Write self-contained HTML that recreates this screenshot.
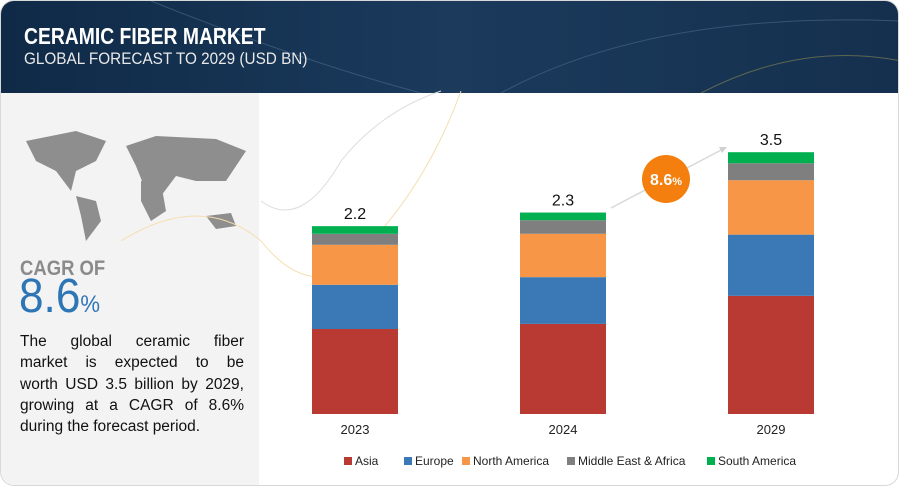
<!DOCTYPE html>
<html><head><meta charset="utf-8">
<style>
*{margin:0;padding:0;box-sizing:border-box}
body{width:900px;height:487px;background:#fff;font-family:"Liberation Sans",sans-serif;overflow:hidden;position:relative}
#frame{position:absolute;left:0;top:0;width:899px;height:486px;border:1px solid #d8d8d8;border-radius:14px;overflow:hidden;background:#fff}
#header{position:absolute;left:0;top:0;width:900px;height:92px;background:linear-gradient(90deg,#0f2a47,#1b3a5c 50%,#15304e)}
#title{position:absolute;left:23px;top:22px;color:#fff;font-weight:bold;font-size:23px;transform:scaleX(0.84);transform-origin:left top;white-space:nowrap}
#subtitle{position:absolute;left:23px;top:48px;color:#e8e8e8;font-size:17px;transform:scaleX(0.9);transform-origin:left top;white-space:nowrap}
#left{position:absolute;left:0;top:92px;width:258px;height:394px;background:#f3f3f3}
#cagr-of{position:absolute;left:19px;top:256px;color:#8a8a8a;font-weight:bold;font-size:21px;transform:scaleX(0.88);transform-origin:left top}
#cagr-val{position:absolute;left:18px;top:268px;color:#2e75b6;font-size:48px;transform:scaleX(0.92);transform-origin:left top}
#cagr-val span{font-size:24px}
#desc{position:absolute;left:19px;top:330px;width:224px;font-size:15.5px;line-height:21.3px;color:#111}
#desc div{text-align:justify;text-align-last:justify;white-space:nowrap}
#desc div:last-child{text-align-last:left}
</style></head><body>
<div id="frame">
<div id="header">
<svg width="900" height="92" style="position:absolute;left:0;top:0">
<path d="M150 0 Q300 60 420 92" stroke="#4a6a8a" fill="none" opacity=".6"/>
<path d="M500 92 Q650 10 900 20" stroke="#4a6a8a" fill="none" opacity=".6"/>
<path d="M700 92 Q800 40 900 60" stroke="#8a8a50" fill="none" opacity=".6"/>
</svg>
<div id="title">CERAMIC FIBER MARKET</div>
<div id="subtitle">GLOBAL FORECAST TO 2029 (USD BN)</div>
</div>
<div id="left">
<svg width="258" height="140" style="position:absolute;left:15px;top:28px">
<path d="M10 20 L60 10 L90 20 L80 40 L60 50 L55 70 L40 50 L20 40Z M60 75 L80 80 L85 100 L70 120 L65 95Z M110 25 L140 15 L200 18 L230 30 L210 60 L180 60 L160 55 L145 75 L130 70 L120 45Z M125 60 L145 62 L150 90 L135 100 L125 80Z M190 95 L215 92 L220 105 L200 108Z" fill="#8e8e8e"/>
</svg>
</div>
<div id="cagr-of">CAGR OF</div>
<div id="cagr-val">8.6<span>%</span></div>
<div id="desc"><div>The global ceramic fiber</div><div>market is expected to be</div><div>worth USD 3.5 billion by 2029,</div><div>growing at a CAGR of 8.6%</div><div>during the forecast period.</div></div>
<svg id="chart" width="900" height="487" style="position:absolute;left:0;top:0">
<path d="M260 200 Q300 230 340 160 Q380 110 440 90" stroke="#ddd" fill="none"/>
<path d="M120 240 Q200 190 260 240 Q300 290 340 270 Q420 200 460 90" stroke="#f5deb0" fill="none"/>
<line x1="610" y1="207" x2="722" y2="148" stroke="#d8d8d8" stroke-width="1.5"/>
<polygon points="726,146 718,146 721,152" fill="#d0d0d0"/>
<circle cx="665" cy="178" r="24" fill="#f47f0f"/>
<text x="665" y="184" fill="#fff" font-size="16" font-weight="bold" text-anchor="middle" font-family="Liberation Sans">8.6<tspan font-size="11">%</tspan></text>
</svg>
</div>
<script>
const categories=["2023","2024","2029"];
const totals=["2.2","2.3","3.5"];
const seriesNames=["Asia","Europe","North America","Middle East & Africa","South America"];
const asia=[1.0,1.06,1.39];
const europe=[0.52,0.55,0.72];
const northAmerica=[0.47,0.51,0.64];
const mea=[0.13,0.16,0.2];
const southAmerica=[0.09,0.09,0.13];
const colors=["#b83a33","#3a79b5","#f79646","#7f7f7f","#00b050"];
const series=[asia,europe,northAmerica,mea,southAmerica];
const svg=document.getElementById('chart');
const NS="http://www.w3.org/2000/svg";
const base=413, scale=85;
const xPos=i=>311+i*208;
const yS=v=>v*scale;
categories.forEach((c,i)=>{
  let y=base;
  series.forEach((s,k)=>{
    const h=yS(s[i]);
    y-=h;
    const r=document.createElementNS(NS,'rect');
    r.setAttribute('x',xPos(i));r.setAttribute('y',y);r.setAttribute('width',86);r.setAttribute('height',h);r.setAttribute('fill',colors[k]);
    
    
    svg.appendChild(r);
  });
  const t=document.createElementNS(NS,'text');
  t.setAttribute('x',xPos(i)+43);t.setAttribute('y',y-7);t.setAttribute('text-anchor','middle');t.setAttribute('font-size','16');t.setAttribute('fill','#111');t.setAttribute('font-family','Liberation Sans');
  t.textContent=totals[i];
  
  
  svg.appendChild(t);
  const l=document.createElementNS(NS,'text');
  l.setAttribute('x',xPos(i)+43);l.setAttribute('y',433);l.setAttribute('text-anchor','middle');l.setAttribute('font-size','13');l.setAttribute('fill','#222');l.setAttribute('font-family','Liberation Sans');
  l.textContent=c;
  
  
  svg.appendChild(l);
});
const legX=[343,403,461,566,706];
seriesNames.forEach((n,k)=>{
  const g=document.createElementNS(NS,'g');
  
  
  const r=document.createElementNS(NS,'rect');
  r.setAttribute('x',legX[k]);r.setAttribute('y',456);r.setAttribute('width',8);r.setAttribute('height',8);r.setAttribute('fill',colors[k]);
  const t=document.createElementNS(NS,'text');
  t.setAttribute('x',legX[k]+11);t.setAttribute('y',464);t.setAttribute('font-size','12');t.setAttribute('fill','#222');t.setAttribute('font-family','Liberation Sans');
  t.textContent=n;
  g.appendChild(r);g.appendChild(t);svg.appendChild(g);
});
</script>
</body></html>
